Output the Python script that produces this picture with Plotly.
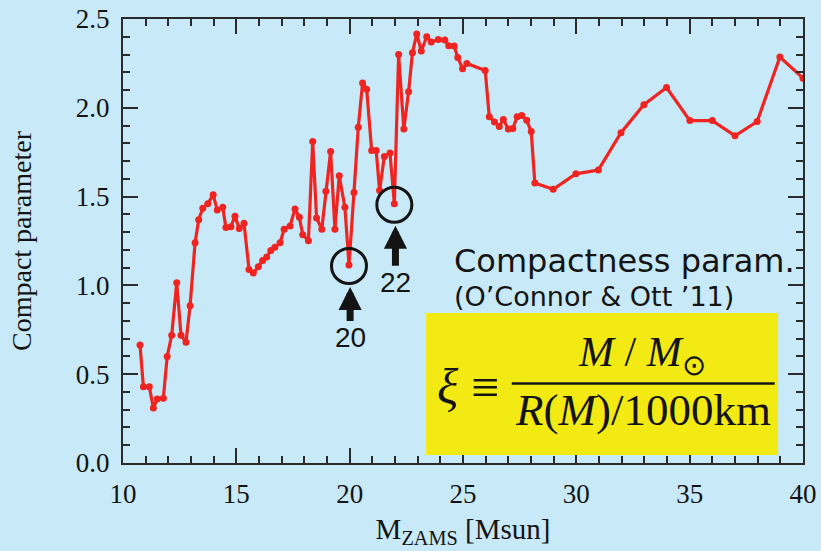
import plotly.graph_objects as go

# Zero-age main-sequence mass [Msun] and compactness parameter xi_2.5
m_zams = [
    10.75, 10.90, 11.16, 11.34, 11.51, 11.78, 11.95, 12.15, 12.37, 12.56,
    12.78, 12.96, 13.18, 13.34, 13.52, 13.74, 13.98, 14.16, 14.40, 14.54,
    14.76, 14.94, 15.13, 15.34, 15.56, 15.75, 15.97, 16.16, 16.34, 16.52,
    16.70, 16.93, 17.11, 17.37, 17.59, 17.78, 17.93, 18.18, 18.37, 18.54,
    18.77, 18.95, 19.16, 19.35, 19.54, 19.79, 19.97, 20.19, 20.38, 20.57,
    20.75, 20.97, 21.17, 21.32, 21.53, 21.78, 21.97, 22.16, 22.39, 22.60,
    22.77, 22.96, 23.16, 23.40, 23.60, 23.91, 24.20, 24.37, 24.61, 24.77,
    24.98, 25.17, 25.98, 26.16, 26.39, 26.60, 26.78, 27.00, 27.20, 27.39,
    27.59, 27.81, 28.01, 28.17, 28.98, 29.98, 30.97, 31.97, 32.98, 33.98,
    35.01, 36.00, 37.00, 37.98, 38.98, 40.00,
]
compactness = [
    0.665, 0.43, 0.43, 0.31, 0.36, 0.365, 0.60, 0.72, 1.015, 0.72,
    0.68, 0.886, 1.24, 1.37, 1.435, 1.46, 1.51, 1.425, 1.44, 1.326,
    1.33, 1.39, 1.32, 1.35, 1.09, 1.07, 1.105, 1.14, 1.16, 1.196,
    1.215, 1.24, 1.316, 1.335, 1.43, 1.384, 1.285, 1.252, 1.81, 1.38,
    1.316, 1.53, 1.754, 1.316, 1.617, 1.44, 1.115, 1.523, 1.89, 2.14,
    2.105, 1.76, 1.76, 1.534, 1.726, 1.745, 1.46, 2.30, 1.88, 2.09,
    2.31, 2.416, 2.32, 2.40, 2.37, 2.384, 2.382, 2.35, 2.348, 2.283,
    2.22, 2.25, 2.21, 1.95, 1.92, 1.895, 1.934, 1.88, 1.883, 1.95,
    1.957, 1.93, 1.866, 1.576, 1.541, 1.628, 1.65, 1.86, 2.017, 2.114,
    1.928, 1.928, 1.842, 1.923, 2.286, 2.167,
]

# Progenitors singled out on the curve
highlight_mass = [20, 22]
highlight_labels = ["20", "22"]

BG = "#c8e9f7"
RED = "#ef2420"
INK = "#141414"
AXIS = "#2a2a2a"
SERIF = "Liberation Serif, Times New Roman, serif"
SANS = "DejaVu Sans, Arial, sans-serif"


def nearest_value(m):
    i = min(range(len(m_zams)), key=lambda k: abs(m_zams[k] - m))
    return m_zams[i], compactness[i]


fig = go.Figure()
fig.add_trace(go.Scatter(
    x=m_zams, y=compactness, mode="lines+markers",
    line=dict(color=RED, width=3.2),
    marker=dict(color=RED, size=7),
    showlegend=False, hoverinfo="skip",
))

shapes = []
annotations = []

# Circles and arrows around the highlighted progenitors
for m, lab in zip(highlight_mass, highlight_labels):
    mx, my = nearest_value(m)
    shapes.append(dict(
        type="circle", xref="x", yref="y",
        xsizemode="pixel", ysizemode="pixel",
        xanchor=mx, yanchor=my,
        x0=-17.5, x1=17.5, y0=-18.5, y1=16.5,
        line=dict(color=INK, width=3),
    ))
    annotations.append(dict(
        x=mx + 0.05, y=my, xref="x", yref="y",
        text=lab, font=dict(family="Liberation Sans, Arial, sans-serif", size=28, color=INK),
        showarrow=True, arrowhead=2, arrowwidth=7, arrowsize=0.66,
        arrowcolor=INK, ax=0, ay=73 if lab == "20" else 79,
        standoff=22,
    ))

# Yellow formula panel
shapes.append(dict(
    type="rect", xref="x", yref="y", x0=23.37, x1=38.9, y0=0.045, y1=0.845,
    fillcolor="#f3ea14", line=dict(width=0), layer="above",
))
# Fraction bar
shapes.append(dict(
    type="line", xref="x", yref="y", x0=27.15, x1=38.75, y0=0.447, y1=0.447,
    line=dict(color=INK, width=2.5), layer="above",
))

annotations += [
    dict(x=24.5, y=1.14, xref="x", yref="y", xanchor="left", yanchor="middle",
         text="Compactness param.", showarrow=False,
         font=dict(family=SANS, size=32, color=INK)),
    dict(x=24.5, y=0.935, xref="x", yref="y", xanchor="left", yanchor="middle",
         text="(O\u2019Connor & Ott \u201911)", showarrow=False,
         font=dict(family=SANS, size=27, color=INK)),
    dict(x=25.2, y=0.43, xref="x", yref="y", xanchor="center", yanchor="middle",
         text="<i>\u03be</i> \u2261", showarrow=False,
         font=dict(family=SERIF, size=50, color=INK)),
    dict(x=32.9, y=0.61, xref="x", yref="y", xanchor="center", yanchor="middle",
         text="<i>M</i> / <i>M</i><sub>\u2299</sub>", showarrow=False,
         font=dict(family=SERIF, size=42, color=INK)),
    dict(x=32.95, y=0.30, xref="x", yref="y", xanchor="center", yanchor="middle",
         text="<i>R</i>(<i>M</i>)/1000km", showarrow=False,
         font=dict(family=SERIF, size=45, color=INK)),
]

axis_common = dict(
    showline=True, linecolor=AXIS, linewidth=2, mirror="allticks",
    ticks="inside", ticklen=15, tickwidth=2, tickcolor=AXIS,
    showgrid=False, zeroline=False, automargin=False,
    tickfont=dict(family=SERIF, size=27, color=INK),
)

fig.update_xaxes(
    range=[10, 40], dtick=5, tick0=10,
    minor=dict(ticks="inside", ticklen=7, tickwidth=1.6, tickcolor=AXIS, dtick=1, showgrid=False),
    title=dict(text="M<sub>ZAMS</sub> [Msun]", font=dict(family=SERIF, size=29, color=INK), standoff=10),
    ticklabelstandoff=6,
    **axis_common,
)
fig.update_yaxes(
    range=[0, 2.5], dtick=0.5, tick0=0, tickformat=".1f",
    minor=dict(ticks="inside", ticklen=7, tickwidth=1.6, tickcolor=AXIS, dtick=0.1, showgrid=False),
    title=dict(text="Compact parameter", font=dict(family=SERIF, size=28, color=INK), standoff=36),
    ticklabelstandoff=6,
    **axis_common,
)

fig.update_layout(
    width=821, height=551,
    margin=dict(l=123, r=18, t=19, b=88),
    paper_bgcolor=BG, plot_bgcolor=BG,
    shapes=shapes, annotations=annotations,
)

fig.write_html("out.html")
